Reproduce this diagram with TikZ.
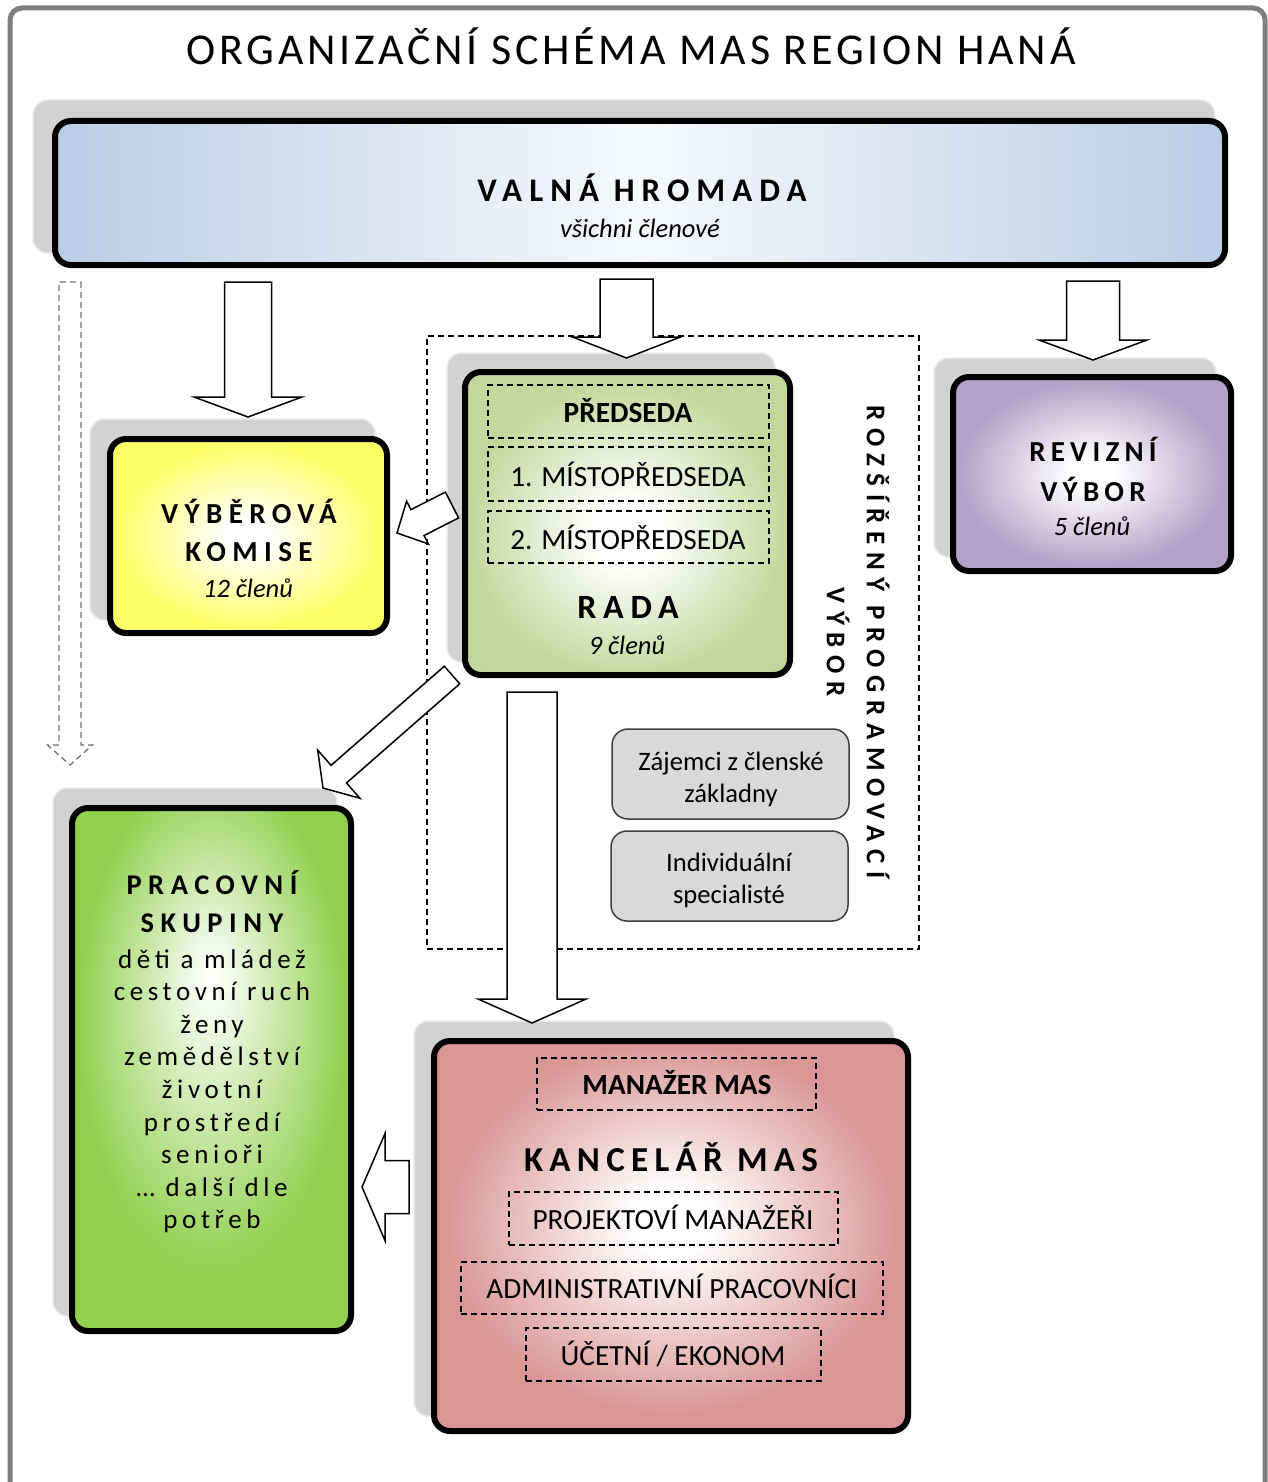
\documentclass[tikz,border=0pt]{standalone}
\usepackage{fontspec}
\setmainfont{Carlito}
\usetikzlibrary{calc,fit}

\definecolor{cvh}{RGB}{185,205,229}
\definecolor{cyel}{RGB}{255,255,102}
\definecolor{crada}{RGB}{195,214,155}
\definecolor{crv}{RGB}{179,162,199}
\definecolor{cps}{RGB}{146,208,80}
\definecolor{ckm}{RGB}{217,150,148}
\definecolor{cshadow}{RGB}{210,210,210}
\definecolor{cshadowedge}{RGB}{232,232,232}
\definecolor{cgraybox}{RGB}{217,217,217}
\definecolor{cframe}{RGB}{127,127,127}

\pgfdeclareradialshading{shyel}{\pgfpoint{0bp}{0bp}}{color(0bp)=(white);color(4bp)=(white);color(24bp)=(cyel);color(50bp)=(cyel)}
\pgfdeclareradialshading{shrada}{\pgfpoint{0bp}{-2bp}}{color(0bp)=(white);color(5bp)=(white);color(25bp)=(crada);color(50bp)=(crada)}
\pgfdeclareradialshading{shrv}{\pgfpoint{0bp}{0bp}}{color(0bp)=(white);color(4bp)=(white);color(24bp)=(crv);color(50bp)=(crv)}
\pgfdeclareradialshading{shps}{\pgfpoint{0bp}{9bp}}{color(0bp)=(white);color(3bp)=(white!90!cps);color(24bp)=(cps);color(50bp)=(cps)}
\pgfdeclareradialshading{shkm}{\pgfpoint{0bp}{2bp}}{color(0bp)=(white);color(4bp)=(white);color(24bp)=(ckm);color(50bp)=(ckm)}

\newcommand\ls[2]{{\addfontfeatures{LetterSpace=#1}#2}}

% block arrow: [style]{from}{to}{half shaft}{half head}{head length}
\newcommand\barr[6][]{%
  \coordinate (bahead) at ($(#3)!#6!(#2)$);
  \draw[barrowst,#1] ($(#2)!#4!90:(#3)$) -- ($(bahead)!#4!90:(#3)$)
    -- ($(bahead)!#5!90:(#3)$) -- (#3) -- ($(bahead)!#5!-90:(#3)$)
    -- ($(bahead)!#4!-90:(#3)$) -- ($(#2)!#4!-90:(#3)$) -- cycle;}

\tikzset{
  mainbox/.style={draw=black, line width=6pt, rounded corners=16pt, inner sep=0pt, shade},
  shadowbox/.style={fill=cshadow, draw=cshadowedge, line width=1.5pt, rounded corners=15pt, inner sep=0pt},
  dbox/.style={draw=black, dash pattern=on 6pt off 4pt, line width=1.4pt, inner sep=0pt},
  rpvbox/.style={draw=black, dash pattern=on 6pt off 4pt, line width=1.3pt, inner sep=0pt},
  graybox/.style={fill=cgraybox, draw=black!75, line width=1.5pt, rounded corners=16pt, inner sep=0pt},
  barrowst/.style={draw=black, fill=white, line width=1.5pt, line join=miter},
  dashedarrow/.style={draw=black!55, fill=none, dash pattern=on 6pt off 4pt, line width=1.3pt},
  t/.style={anchor=base, inner sep=0pt},
  big/.style={t, font=\fontsize{29}{34}\selectfont\bfseries},
  ital/.style={t, font=\fontsize{26.5}{30}\selectfont\itshape},
  sub/.style={t, font=\fontsize{29.3}{34}\selectfont},
  subb/.style={t, font=\fontsize{29.3}{34}\selectfont\bfseries},
  gtext/.style={t, font=\fontsize{26.6}{30}\selectfont},
  pstext/.style={t, font=\fontsize{27}{30}\selectfont},
}

\begin{document}
\begin{tikzpicture}[x=1pt,y=-1pt]
\useasboundingbox (0,0) rectangle (1267,1482);
\fill[white] (0,0) rectangle (1267,1482);

% outer frame
\draw[cframe, line width=5pt, rounded corners=12pt] (10,1520) -- (10,8) -- (1265,8) -- (1265,1520);

\node[t, font=\fontsize{44}{50}\selectfont] (title) at (631,65) {\ls{8.5}{ORGANIZAČNÍ SCHÉMA MAS REGION HANÁ}};

% shadows
\node[shadowbox, fit={(33,100)(1215,253)}] (vhsh) {};
\node[shadowbox, fit={(90,419)(375,620)}] (vksh) {};
\node[shadowbox, fit={(447,353)(775,662)}] (radash) {};
\node[shadowbox, fit={(934,358)(1216,557)}] (rvsh) {};
\node[shadowbox, fit={(53,788)(337,1316)}] (pssh) {};
\node[shadowbox, fit={(414,1021)(894,1416)}] (kmsh) {};

% extended programme committee region
\node[rpvbox, fit={(427,336)(919,949)}] (rpv) {};

% main boxes
\node[mainbox, left color=cvh, right color=cvh, middle color=white!88!cvh, fit={(55,121)(1225,265)}] (vh) {};
\node[mainbox, shading=shyel, fit={(110,439)(387,633)}] (vk) {};
\node[mainbox, shading=shrada, fit={(465,372)(790,675)}] (rada) {};
\node[mainbox, shading=shrv, fit={(953,377)(1231,571)}] (rv) {};
\node[mainbox, shading=shps, fit={(72,808)(351,1331)}] (ps) {};
\node[mainbox, shading=shkm, fit={(434,1041)(908,1431)}] (km) {};

% Valná hromada texts
\node[t, font=\fontsize{33}{38}\selectfont\bfseries] (vht) at (642,201) {\ls{21.5}{VALNÁ HROMADA}};
\node[ital] (vhs) at (640,237) {všichni členové};

% Výběrová komise
\node[big] (vk1) at (249,523) {\ls{22}{VÝBĚROVÁ}};
\node[big] (vk2) at (249,561) {\ls{22}{KOMISE}};
\node[ital] (vk3) at (248,597) {12 členů};

% Rada
\node[dbox, fit={(488,385)(769,438)}] (pred) {};
\node[dbox, fit={(488,447)(769,501)}] (mist1) {};
\node[dbox, fit={(488,511)(769,563)}] (mist2) {};
\node[subb] (predt) at (628,422) {PŘEDSEDA};
\node[sub] (mist1t) at (628,486) {1. MÍSTOPŘEDSEDA};
\node[sub] (mist2t) at (628,549) {2. MÍSTOPŘEDSEDA};
\node[t, font=\fontsize{34}{40}\selectfont\bfseries] (radat) at (628,618) {\ls{20}{RADA}};
\node[ital] (radas) at (627,654) {9 členů};

% Revizní výbor
\node[big] (rv1) at (1093,461) {\ls{18}{REVIZNÍ}};
\node[big] (rv2) at (1093,501) {\ls{18}{VÝBOR}};
\node[ital] (rv3) at (1092,535) {5 členů};

% rotated label
\node[rotate=-90, align=center, inner sep=0pt, font=\fontsize{27}{40}\selectfont\bfseries] (rpvt) at (858,642) {\ls{28}{ROZŠÍŘENÝ PROGRAMOVACÍ}\\\ls{28}{VÝBOR}};

% gray boxes
\node[graybox, fit={(612,729)(849,819)}] (zaj) {};
\node[graybox, fit={(611,831)(848,921)}] (ind) {};
\node[gtext] (zaj1) at (731,770) {Zájemci z členské};
\node[gtext] (zaj2) at (731,802) {základny};
\node[gtext] (ind1) at (729,871) {Individuální};
\node[gtext] (ind2) at (729,903) {specialisté};

% Pracovní skupiny
\node[t, font=\fontsize{28.5}{34}\selectfont\bfseries] (ps1) at (212,894) {\ls{23}{PRACOVNÍ}};
\node[t, font=\fontsize{28.5}{34}\selectfont\bfseries] (ps2) at (212,932) {\ls{23}{SKUPINY}};
\foreach \y/\txt [count=\i] in {968/děti a mládež, 1000/cestovní ruch, 1033/ženy, 1065/zemědělství, 1098/životní, 1131/prostředí, 1163/senioři, 1196/… další dle, 1228/potřeb}
  \node[pstext] (psl\i) at (212,\y) {\ls{17}{\txt}};

% Kancelář MAS
\node[dbox, fit={(537,1058)(816,1110)}] (man) {};
\node[dbox, fit={(509,1192)(838,1245)}] (proj) {};
\node[dbox, fit={(461,1262)(883,1314)}] (adm) {};
\node[dbox, fit={(526,1328)(821,1381)}] (uce) {};
\node[subb] (mant) at (677,1094) {MANAŽER MAS};
\node[t, font=\fontsize{35}{40}\selectfont\bfseries] (kmt) at (671,1171) {\ls{18}{KANCELÁŘ MAS}};
\node[sub] (projt) at (673,1229) {PROJEKTOVÍ MANAŽEŘI};
\node[sub] (admt) at (672,1298) {ADMINISTRATIVNÍ PRACOVNÍCI};
\node[sub] (ucet) at (673,1365) {ÚČETNÍ / EKONOM};

% arrow end points
\coordinate (a1s) at (248,282);   \coordinate (a1e) at (248,417);
\coordinate (a2s) at (626.5,279); \coordinate (a2e) at (626.5,358);
\coordinate (a3s) at (1093,281);  \coordinate (a3e) at (1093,360);
\coordinate (a4s) at (452,505);   \coordinate (a4e) at (397,533);
\coordinate (a5s) at (452,675);   \coordinate (a5e) at (323,788);
\coordinate (a6s) at (532,692);   \coordinate (a6e) at (532,1023);
\coordinate (a7s) at (409,1187);  \coordinate (a7e) at (362,1187);
\coordinate (a8s) at (70,282);    \coordinate (a8e) at (70,765);

\barr{a1s}{a1e}{23.5pt}{54pt}{20pt}
\barr{a2s}{a2e}{26.5pt}{54pt}{21pt}
\barr{a3s}{a3e}{26.5pt}{54pt}{20pt}
\barr{a4s}{a4e}{14.5pt}{24pt}{23pt}
\barr{a5s}{a5e}{11.7pt}{32pt}{21pt}
\barr{a6s}{a6e}{25pt}{54pt}{24pt}
\barr{a7s}{a7e}{26.5pt}{53.5pt}{23pt}
\barr[dashedarrow]{a8s}{a8e}{11pt}{22.5pt}{20pt}
\end{tikzpicture}
\end{document}
